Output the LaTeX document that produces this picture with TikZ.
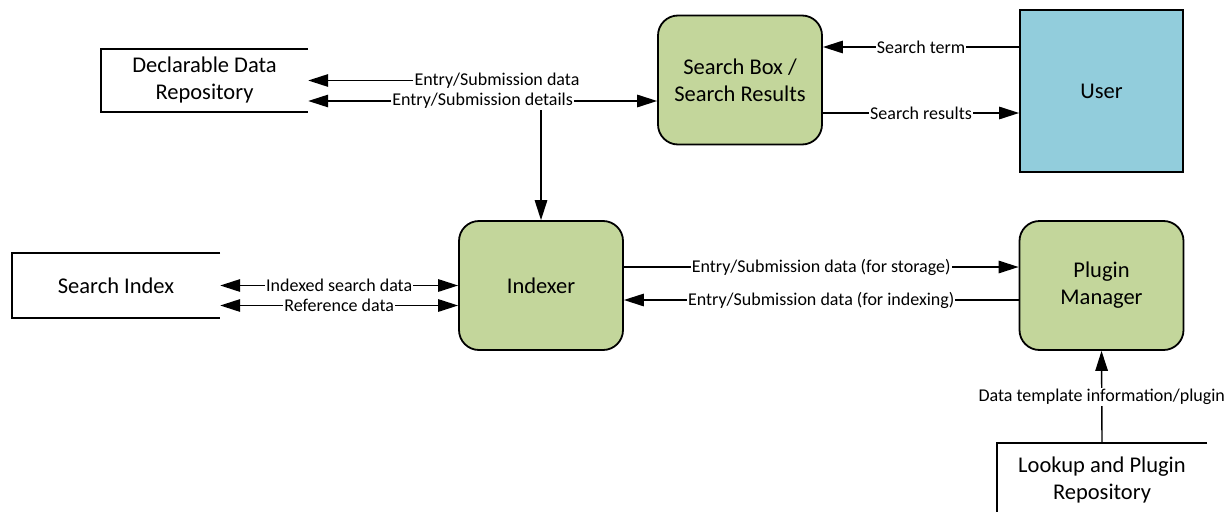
\documentclass[tikz,border=0pt]{standalone}
\usepackage{fontspec}
\setmainfont{Carlito}
\usetikzlibrary{arrows.meta,calc}
\definecolor{procgreen}{HTML}{C3D69B}
\definecolor{userblue}{HTML}{92CDDC}
\begin{document}
\begin{tikzpicture}[x=1pt,y=-1pt,
  boxtext/.style={align=center, font=\fontsize{22.5}{27}\selectfont, inner sep=0pt},
  proc/.style={boxtext, draw=black, line width=1.8pt, fill=procgreen,
    rounded corners=20pt, minimum width=164pt, minimum height=129pt},
  entity/.style={boxtext, draw=black, line width=1.8pt, fill=userblue},
  store/.style={boxtext},
  storeline/.style={line width=1.6pt},
  tip/.tip={Triangle[length=20pt,width=12.5pt]},
  flow/.style={line width=1.4pt, -tip},
  biflow/.style={line width=1.4pt, tip-tip},
  lbl/.style={fill=white, inner xsep=1pt, inner ysep=1pt, font=\fontsize{18}{20}\selectfont}
]
\useasboundingbox (0,0) rectangle (1230,511);

% processes and external entity
\node[proc] (sb) at (740,80) {Search Box /\\Search Results};
\node[entity, minimum width=163pt, minimum height=162pt] (user) at (1101.5,91) {User};
\node[proc] (idx) at (541,285.5) {Indexer};
\node[proc] (pm) at (1101.5,285.5) {Plugin\\Manager};

% data stores (open on one side)
\node[store, minimum width=207pt, minimum height=63pt] (ddr) at (204.5,80.5) {Declarable Data\\Repository};
\node[store, minimum width=208pt, minimum height=65pt] (si) at (116,285.5) {Search Index};
\node[store, minimum width=210pt, minimum height=74pt] (lpr) at (1102,480) {Lookup and Plugin\\Repository};
\foreach \s in {ddr,si,lpr}
  \draw[storeline] (\s.north east) -- (\s.north west) -- (\s.south west) -- (\s.south east);

% user <-> search box
\draw[flow] ($(user.west)+(0,-44)$) coordinate (st) -- (st -| sb.east)
  node[lbl,midway] {Search term};
\draw[flow] ($(sb.east)+(0,33)$) coordinate (sr) -- (sr -| user.west)
  node[lbl,midway] {Search results};

% declarable data repository flows
\coordinate (dd) at ($(ddr.east)+(0,20.5)$);
\draw[flow] (idx.north |- dd) -- (idx.north);
\draw[biflow] (dd) -- (dd -| sb.west)
  node[lbl,midway] {Entry/Submission details};
\node[lbl] (lbldata) at (497,80.5) {Entry/Submission data};
\draw[flow] (lbldata.west) -- (lbldata.west -| ddr.east);

% search index <-> indexer
\draw[biflow] (si.east) -- (si.east -| idx.west)
  node[lbl,midway] {Indexed search data};
\draw[biflow] ($(si.east)+(0,20)$) coordinate (rd) -- (rd -| idx.west)
  node[lbl,midway] {Reference data};

% indexer <-> plugin manager
\draw[flow] ($(idx.east)+(0,-18.5)$) coordinate (fs) -- (fs -| pm.west)
  node[lbl,midway] {Entry/Submission data (for storage)};
\draw[flow] ($(pm.west)+(0,14.5)$) coordinate (fi) -- (fi -| idx.east)
  node[lbl,midway] {Entry/Submission data (for indexing)};

% lookup repository -> plugin manager
\draw[flow] (lpr.north) -- (pm.south)
  node[lbl,midway] {Data template information/plugin};
\end{tikzpicture}
\end{document}
